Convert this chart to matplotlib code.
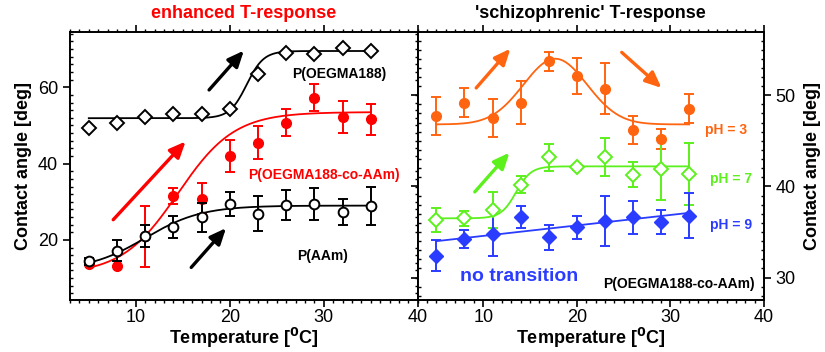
import numpy as np
import matplotlib
matplotlib.use("Agg")
import matplotlib.pyplot as plt
from matplotlib.ticker import MultipleLocator

plt.rcParams['font.family'] = ['Liberation Sans', 'DejaVu Sans']

# ---------------- data: left panel ----------------
T_left = [5, 8, 11, 14, 17, 20, 23, 26, 29, 32, 35]
oegma = [49.4, 50.6, 52.3, 52.9, 52.9, 54.2, 63.5, 68.9, 68.7, 70.2, 69.5]

T_co = [5, 8, 11, 14, 17, 20, 23, 26, 29, 32, 35]
co_aam = [13.6, 13.3, 21.0, 31.4, 30.8, 41.9, 45.5, 50.7, 57.3, 52.3, 51.6]
co_aam_err = [0.0, 0.0, 8.0, 2.1, 4.0, 4.2, 4.4, 3.5, 3.6, 4.2, 4.0]

aam = [14.4, 17.2, 21.1, 23.4, 26.0, 29.4, 26.9, 29.2, 29.4, 27.4, 29.0]
aam_err = [1.0, 2.7, 2.9, 2.8, 3.8, 3.2, 4.5, 4.0, 4.3, 3.4, 5.0]

# fit parameters (Boltzmann: bottom, top, x0, dx)
fit_oegma = (51.9, 69.5, 21.8, 0.9)
fit_co = (11.0, 53.5, 14.5, 3.0)
fit_aam = (12.0, 29.0, 11.0, 3.0)

# ---------------- data: right panel ----------------
T_right = [5, 8, 11, 14, 17, 20, 23, 26, 29, 32]
ph3 = [47.7, 49.2, 47.5, 49.2, 53.7, 52.1, 50.7, 46.2, 45.2, 48.5]
ph3_err = [2.1, 1.6, 2.1, 2.4, 1.0, 2.0, 2.8, 1.5, 1.1, 1.6]
ph7 = [36.3, 36.5, 37.4, 40.2, 43.2, 42.1, 43.2, 41.3, 41.9, 41.4]
ph7_err = [1.3, 0.8, 2.0, 0.9, 1.5, 0.3, 2.1, 1.4, 3.4, 3.4]
ph9 = [32.4, 34.2, 34.8, 36.6, 34.4, 35.5, 36.2, 36.6, 36.1, 36.8]
ph9_err = [1.7, 1.0, 2.4, 1.2, 1.4, 1.3, 2.7, 1.8, 1.3, 2.5]

fit_ph3 = (46.8, 7.2, 17.7, 3.4)   # baseline, amplitude, centre, sigma
fit_ph7 = (36.5, 42.2, 13.5, 0.8)  # Boltzmann
fit_ph9 = (34.0, 37.1)             # linear, values at T=5 and T=32

RED = '#ff0000'
ORANGE = '#ff6410'
GREEN = '#5cf01c'
BLUE = '#2a3cff'


def boltz(t, p):
    b, top, x0, dx = p
    return b + (top - b) / (1 + np.exp((x0 - t) / dx))


fig = plt.figure(figsize=(8.25, 3.52), dpi=100)
axL = fig.add_axes([70 / 825, 52.5 / 352, 347.7 / 825, 267.2 / 352])
axR = fig.add_axes([417.7 / 825, 52.5 / 352, 346.3 / 825, 267.2 / 352])

tt = np.linspace(5, 35, 300)
tr = np.linspace(5, 32, 300)

# ---- left panel ----
axL.plot(tt, boltz(tt, fit_oegma), color='black', lw=1.3, zorder=2)
axL.plot(T_left, oegma, 'D', mfc='white', mec='black', mew=1.4, ms=7, zorder=3)

axL.plot(tt, boltz(tt, fit_co), color=RED, lw=1.3, zorder=2)
axL.errorbar(T_co, co_aam, yerr=co_aam_err, fmt='o', color=RED, ms=7,
             elinewidth=1.4, capsize=3.5, capthick=1.4, zorder=3)

axL.plot(tt, boltz(tt, fit_aam), color='black', lw=1.3, zorder=4)
axL.errorbar(T_left, aam, yerr=aam_err, fmt='o', color='black', mfc='white',
             mec='black', mew=1.4, ms=7, elinewidth=1.4, capsize=3.5,
             capthick=1.4, zorder=5)

arrow_kw = dict(arrowstyle='-|>,head_length=0.8,head_width=0.35', lw=2.4,
                mutation_scale=12, shrinkA=0, shrinkB=0)
axL.annotate('', xy=(21.5, 69.6), xytext=(17.8, 59.3),
             arrowprops=dict(color='black', **arrow_kw))
axL.annotate('', xy=(15.3, 45.8), xytext=(7.6, 25.3),
             arrowprops=dict(color=RED, **arrow_kw))
axL.annotate('', xy=(19.6, 23.1), xytext=(15.9, 12.8),
             arrowprops=dict(color='black', **arrow_kw))

axL.text(31.6, 63.5, 'P(OEGMA188)', color='black', fontsize=10,
         fontweight='bold', ha='center', va='center')
axL.text(30.0, 37.1, 'P(OEGMA188-co-AAm)', color=RED, fontsize=10,
         fontweight='bold', ha='center', va='center')
axL.text(29.9, 15.7, 'P(AAm)', color='black', fontsize=10,
         fontweight='bold', ha='center', va='center')

axL.set_xlim(3, 40)
axL.set_ylim(4.4, 74.4)
axL.set_xticks([10, 20, 30, 40])
axL.set_yticks([20, 40, 60])
axL.yaxis.set_minor_locator(MultipleLocator(2))
axL.xaxis.set_minor_locator(MultipleLocator(1))
axL.set_xlabel(r'Temperature [$\mathbf{^0}$C]', fontsize=13, fontweight='bold',
               labelpad=0)
axL.set_ylabel('Contact angle [deg]', fontsize=13, fontweight='bold', labelpad=4)
axL.set_title('enhanced T-response', color=RED, fontsize=13, fontweight='bold',
              pad=10)

# ---- right panel ----
axR.plot(tr, fit_ph3[0] + fit_ph3[1] * np.exp(-(tr - fit_ph3[2]) ** 2 / (2 * fit_ph3[3] ** 2)),
         color=ORANGE, lw=1.3, zorder=2)
axR.errorbar(T_right, ph3, yerr=ph3_err, fmt='o', color=ORANGE, ms=7,
             elinewidth=1.4, capsize=3.5, capthick=1.4, zorder=3)

axR.plot(tr, boltz(tr, fit_ph7), color=GREEN, lw=1.3, zorder=2)
axR.errorbar(T_right, ph7, yerr=ph7_err, fmt='D', color=GREEN, mfc='white',
             mec=GREEN, mew=1.4, ms=7, elinewidth=1.4, capsize=3.5,
             capthick=1.4, zorder=3)

axR.plot([5, 32], list(fit_ph9), color=BLUE, lw=1.3, zorder=2)
axR.errorbar(T_right, ph9, yerr=ph9_err, fmt='D', color=BLUE, ms=7,
             elinewidth=1.4, capsize=3.5, capthick=1.4, zorder=3)

axR.annotate('', xy=(12.9, 55.1), xytext=(9.25, 50.8),
             arrowprops=dict(color=ORANGE, **arrow_kw))
axR.annotate('', xy=(29.05, 50.8), xytext=(24.8, 54.7),
             arrowprops=dict(color=ORANGE, **arrow_kw))
axR.annotate('', xy=(12.8, 43.7), xytext=(9.1, 39.4),
             arrowprops=dict(color=GREEN, **arrow_kw))

axR.text(35.9, 46.2, 'pH = 3', color=ORANGE, fontsize=10, fontweight='bold',
         ha='center', va='center')
axR.text(36.5, 40.8, 'pH = 7', color=GREEN, fontsize=10, fontweight='bold',
         ha='center', va='center')
axR.text(36.5, 35.8, 'pH = 9', color=BLUE, fontsize=10, fontweight='bold',
         ha='center', va='center')
axR.text(13.8, 30.1, 'no transition', color=BLUE, fontsize=14, fontweight='bold',
         ha='center', va='center')
axR.text(30.9, 29.3, 'P(OEGMA188-co-AAm)', color='black', fontsize=10,
         fontweight='bold', ha='center', va='center')

axR.set_xlim(3, 40)
axR.set_ylim(27.6, 56.9)
axR.set_xticks([10, 20, 30, 40])
axR.set_yticks([30, 40, 50])
axR.yaxis.set_minor_locator(MultipleLocator(1))
axR.xaxis.set_minor_locator(MultipleLocator(1))
axR.yaxis.tick_right()
axR.yaxis.set_label_position('right')
axR.set_xlabel(r'Temperature [$\mathbf{^0}$C]', fontsize=13, fontweight='bold',
               labelpad=0)
axR.set_ylabel('Contact angle [deg]', fontsize=13, fontweight='bold',
               labelpad=6, rotation=90)
axR.set_title("'schizophrenic' T-response", color='black', fontsize=13,
              fontweight='bold', pad=10)

for ax in (axL, axR):
    for s in ax.spines.values():
        s.set_linewidth(1.4)
    ax.tick_params(axis='both', which='major', labelsize=13, width=1.2, length=5)
    ax.tick_params(axis='x', which='major', direction='out', pad=2)
    ax.tick_params(axis='x', which='minor', direction='out', length=2.5, width=1)
    ax.tick_params(axis='y', which='major', direction='out', left=True, right=True)
    ax.tick_params(axis='y', which='minor', direction='in', length=2.5, width=1,
                   left=True, right=True)
    ax.tick_params(axis='x', which='both', top=True, labeltop=False)
axL.tick_params(axis='y', labelleft=True, labelright=False)
axR.tick_params(axis='y', labelleft=False, labelright=True)

fig.savefig('out.png', dpi=100)
